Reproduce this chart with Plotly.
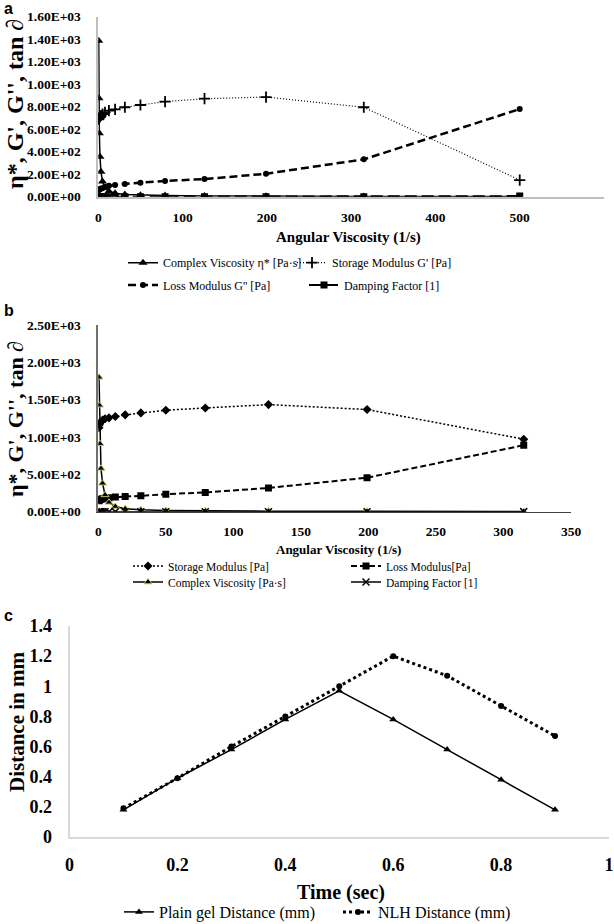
import plotly.graph_objects as go

W, H = 614, 924

# ---------------- Panel a data ----------------
freq_a = [0.5, 0.79, 1.26, 1.99, 3.15, 5, 7.92, 12.6, 19.9, 31.5, 50, 79.2, 126, 199, 315, 500]
complex_visc_a = [1387, 875, 563, 356, 222, 135, 80, 48, 30, 20, 14, 10, 7, 4.6, 2.7, 1.6]
storage_a = [688, 698, 705, 711, 722, 735, 750, 765, 777, 795, 815, 845, 871, 886, 795, 148]
loss_a = [60, 62, 65, 68, 72, 76, 88, 97, 104, 113, 124, 140, 157, 204, 332, 779]
damping_a = [0.087, 0.089, 0.092, 0.096, 0.1, 0.1, 0.12, 0.13, 0.13, 0.14, 0.15, 0.17, 0.18, 0.23, 0.42, 5.3]
yticks_a = [0, 200, 400, 600, 800, 1000, 1200, 1400, 1600]
yticklabels_a = ["0.00E+00", "2.00E+02", "4.00E+02", "6.00E+02", "8.00E+02",
                 "1.00E+03", "1.20E+03", "1.40E+03", "1.60E+03"]
xticks_a = [0, 100, 200, 300, 400, 500, 600]

# ---------------- Panel b data ----------------
freq_b = [0.5, 0.79, 1.26, 1.99, 3.15, 5, 7.92, 12.6, 19.9, 31.5, 50, 79.2, 126, 199, 315]
storage_b = [1125, 1165, 1190, 1204, 1226, 1244, 1257, 1275, 1297, 1323, 1359, 1389, 1434, 1368, 971]
loss_b = [146, 155, 162, 168, 175, 180, 188, 196, 202, 212, 234, 258, 318, 455, 890]
complex_visc_b = [1800, 1425, 910, 580, 380, 225, 125, 70, 40, 25, 16, 10, 7, 4.5, 3]
damping_b = [0.13, 0.13, 0.14, 0.14, 0.14, 0.14, 0.15, 0.15, 0.16, 0.16, 0.17, 0.19, 0.22, 0.33, 0.92]
yticks_b = [0, 500, 1000, 1500, 2000, 2500]
yticklabels_b = ["0.00E+00", "5.00E+02", "1.00E+03", "1.50E+03", "2.00E+03", "2.50E+03"]
xticks_b = [0, 50, 100, 150, 200, 250, 300, 350]

# ---------------- Panel c data ----------------
time_c = [0.1, 0.2, 0.3, 0.4, 0.5, 0.6, 0.7, 0.8, 0.9]
plain_gel = [0.18, 0.39, 0.58, 0.78, 0.97, 0.78, 0.58, 0.38, 0.18]
nlh = [0.19, 0.39, 0.60, 0.80, 1.00, 1.20, 1.07, 0.87, 0.67]

SERIF = "Liberation Serif"
SANS = "Liberation Sans"


def px_x(p):
    return p / W


def px_y(p):
    return 1 - p / H


fig = go.Figure()

# ---- panel a traces ----
fig.add_trace(go.Scatter(x=freq_a, y=complex_visc_a, name="Complex Viscosity η* [Pa·s]",
                         mode="lines+markers", xaxis="x", yaxis="y", legend="legend",
                         line=dict(color="black", width=1.5),
                         marker=dict(symbol="triangle-up", size=8, color="black")))
fig.add_trace(go.Scatter(x=freq_a, y=storage_a, name="Storage Modulus G' [Pa]",
                         mode="lines+markers", xaxis="x", yaxis="y", legend="legend2",
                         line=dict(color="black", width=1.2, dash="1px,2px"),
                         marker=dict(symbol="cross-thin", size=8, color="black",
                                     line=dict(color="black", width=1.8))))
fig.add_trace(go.Scatter(x=freq_a, y=loss_a, name="Loss Modulus G'' [Pa]",
                         mode="lines+markers", xaxis="x", yaxis="y", legend="legend3",
                         line=dict(color="black", width=2.5, dash="8px,4px"),
                         marker=dict(symbol="circle", size=6, color="black")))
fig.add_trace(go.Scatter(x=freq_a, y=damping_a, name="Damping Factor [1]",
                         mode="lines+markers", xaxis="x", yaxis="y", legend="legend4",
                         line=dict(color="black", width=2, dash="12px,5px"),
                         marker=dict(symbol="square", size=7, color="black")))

# ---- panel b traces ----
fig.add_trace(go.Scatter(x=freq_b, y=storage_b, name="Storage Modulus [Pa]",
                         mode="lines+markers", xaxis="x2", yaxis="y2", legend="legend5",
                         line=dict(color="black", width=1.5, dash="2px,2px"),
                         marker=dict(symbol="diamond", size=7, color="black")))
fig.add_trace(go.Scatter(x=freq_b, y=loss_b, name="Loss Modulus[Pa]",
                         mode="lines+markers", xaxis="x2", yaxis="y2", legend="legend6",
                         line=dict(color="black", width=2, dash="6px,3px"),
                         marker=dict(symbol="square", size=7, color="black")))
fig.add_trace(go.Scatter(x=freq_b, y=complex_visc_b, name="Complex Viscosity [Pa·s]",
                         mode="lines+markers", xaxis="x2", yaxis="y2", legend="legend7",
                         line=dict(color="black", width=1.5),
                         marker=dict(symbol="triangle-up", size=7, color="black",
                                     line=dict(color="#c4c46a", width=1))))
fig.add_trace(go.Scatter(x=freq_b, y=damping_b, name="Damping Factor [1]",
                         mode="lines+markers", xaxis="x2", yaxis="y2", legend="legend8",
                         line=dict(color="black", width=1.5),
                         marker=dict(symbol="x-thin", size=7, color="black",
                                     line=dict(color="black", width=1.5))))

# ---- panel c traces ----
fig.add_trace(go.Scatter(x=time_c, y=plain_gel, name="Plain gel Distance (mm)",
                         mode="lines+markers", xaxis="x3", yaxis="y3", legend="legend9",
                         line=dict(color="black", width=1.5),
                         marker=dict(symbol="triangle-up", size=7, color="black")))
fig.add_trace(go.Scatter(x=time_c, y=nlh, name="NLH Distance (mm)",
                         mode="lines+markers", xaxis="x3", yaxis="y3", legend="legend10",
                         line=dict(color="black", width=3, dash="dot"),
                         marker=dict(symbol="circle", size=6, color="black")))

tickfont_ab = dict(family=SERIF, size=13.5, color="black", weight="bold")
tickfont_c = dict(family=SERIF, size=18, color="black", weight="bold")

common = dict(showgrid=False, zeroline=False, ticks="", showline=True, automargin=False)

layout = dict(
    width=W, height=H,
    margin=dict(l=0, r=0, t=0, b=0, autoexpand=False),
    paper_bgcolor="white", plot_bgcolor="white",
    showlegend=True,
    xaxis=dict(domain=[px_x(98.3), px_x(604)], range=[0, 600], tickvals=xticks_a,
               linecolor="#c0c0c0", linewidth=1.5, tickfont=tickfont_ab,
               ticklabelstandoff=7, anchor="y", **common),
    yaxis=dict(domain=[px_y(196.7), px_y(16.7)], range=[0, 1600], tickvals=yticks_a,
               ticktext=yticklabels_a, linecolor="#c0c0c0", linewidth=1.5,
               tickfont=tickfont_ab, ticklabelstandoff=13, anchor="x", **common),
    xaxis2=dict(domain=[px_x(98.3), px_x(571)], range=[0, 350], tickvals=xticks_b,
                linecolor="#404040", linewidth=1.2, tickfont=tickfont_ab,
                ticklabelstandoff=7, anchor="y2", **common),
    yaxis2=dict(domain=[px_y(511.7), px_y(325)], range=[0, 2500], tickvals=yticks_b,
                ticktext=yticklabels_b, linecolor="#707070", linewidth=1.5,
                tickfont=tickfont_ab, ticklabelstandoff=13, anchor="x2", **common),
    xaxis3=dict(domain=[px_x(69.5), px_x(609)], range=[0, 1], dtick=0.2,
                linecolor="#d9d9d9", linewidth=2, tickfont=tickfont_c,
                ticklabelstandoff=10, anchor="y3", **common),
    yaxis3=dict(domain=[px_y(837), px_y(626)], range=[0, 1.4], dtick=0.2,
                linecolor="#d9d9d9", linewidth=2, tickfont=tickfont_c,
                ticklabelstandoff=12, anchor="x3", **common),
)

# legends: one per entry so each can sit where the reference puts it
leg_specs = [
    # (text start px, row centre px, font size)
    (163, 262.7, 12), (332, 262.7, 12), (163, 285, 12), (344, 285, 12),
    (168, 566, 11.5), (386, 566, 11.5), (168, 582, 11.5), (386, 582, 11.5),
    (159, 912, 16), (378, 912, 16),
]
for i, (tx, ry, fs) in enumerate(leg_specs):
    key = "legend" if i == 0 else f"legend{i + 1}"
    layout[key] = dict(x=px_x(tx - 40), y=px_y(ry), xanchor="left", yanchor="middle",
                       orientation="h", bgcolor="rgba(0,0,0,0)", borderwidth=0,
                       font=dict(family=SERIF, size=fs, color="black"),
                       itemclick=False, itemdoubleclick=False)

fig.update_layout(**layout)

annotations = [
    # panel letters
    dict(text="a", x=px_x(2), y=px_y(9), font=dict(family=SANS, size=16, weight="bold")),
    dict(text="b", x=px_x(2), y=px_y(311), font=dict(family=SANS, size=16, weight="bold")),
    dict(text="c", x=px_x(2), y=px_y(615), font=dict(family=SANS, size=16, weight="bold")),
    # x titles
    dict(text="Angular Viscosity (1/s)", x=px_x(348), y=px_y(237),
         font=dict(family=SERIF, size=15, weight="bold"), xanchor="center"),
    dict(text="Angular Viscosity (1/s)", x=px_x(338), y=px_y(549),
         font=dict(family=SERIF, size=13, weight="bold"), xanchor="center"),
    dict(text="Time (sec)", x=px_x(341), y=px_y(892.5),
         font=dict(family=SERIF, size=20, weight="bold"), xanchor="center"),
    # y titles
    dict(text="η*, G', G'', tan ∂", x=px_x(15), y=px_y(104), textangle=-90,
         font=dict(family=SERIF, size=24, weight="bold"), xanchor="center"),
    dict(text="η*, G', G'', tan ∂", x=px_x(15), y=px_y(419), textangle=-90,
         font=dict(family=SERIF, size=22, weight="bold"), xanchor="center"),
    dict(text="Distance in mm", x=px_x(17), y=px_y(722), textangle=-90,
         font=dict(family=SERIF, size=21, weight="bold"), xanchor="center"),
]
for a in annotations:
    a.setdefault("xanchor", "left")
    a.update(xref="paper", yref="paper", showarrow=False, yanchor="middle")
    a["font"].setdefault("color", "black")
fig.update_layout(annotations=annotations)

fig.write_html(
    "out.html",
    config={"displayModeBar": False},
    post_script="document.body.style.margin='0px';document.body.style.padding='0px';"
                "document.body.style.overflow='hidden';",
)
